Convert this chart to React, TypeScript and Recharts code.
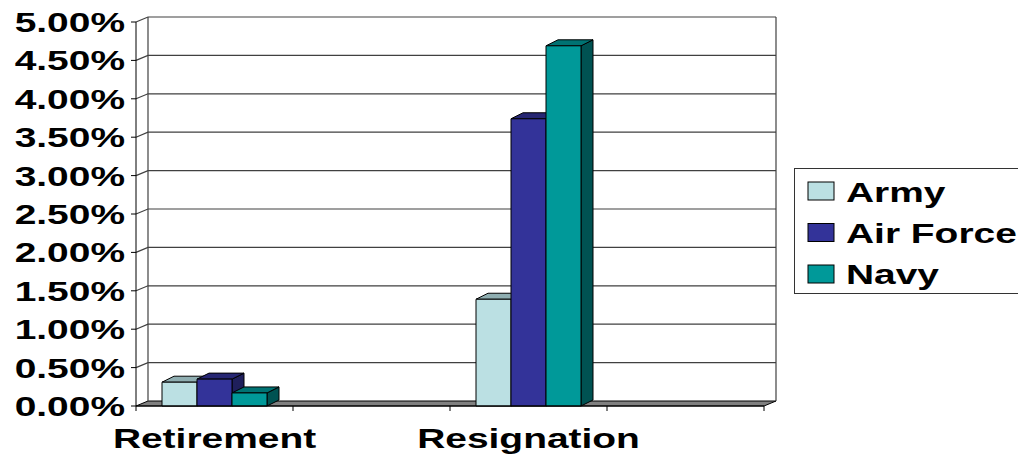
import { BarChart, Bar, XAxis, YAxis, CartesianGrid, Legend } from 'recharts';

const categories = ['Retirement', '', 'Resignation', ''];
const army = [0.0031, null, 0.0139, null];
const airForce = [0.0035, null, 0.0374, null];
const navy = [0.0017, null, 0.0469, null];
const yTicks = [0, 0.005, 0.01, 0.015, 0.02, 0.025, 0.03, 0.035, 0.04, 0.045, 0.05];

const series = [
  { key: 'army', name: 'Army', fill: '#BBE0E3', top: '#8FAEB1', side: '#7C979A' },
  { key: 'airForce', name: 'Air Force', fill: '#333399', top: '#262673', side: '#1F1F5C' },
  { key: 'navy', name: 'Navy', fill: '#009999', top: '#007373', side: '#005252' },
];

const data = categories.map((name, i) => ({
  name,
  army: army[i],
  airForce: airForce[i],
  navy: navy[i],
}));

const W = 1018;
const H = 455;
const PLOT_TOP = 22;
const PLOT_LEFT = 136;
const PLOT_RIGHT = 764;
const PLOT_BOTTOM = 406;
const BAND = (PLOT_RIGHT - PLOT_LEFT) / categories.length;

// fake 3d depth of the walls and of the boxes
const DX = 12;
const DY = 5;
const BOX_DY = 6;

// excel style text is stretched sideways
const FONT = "'Liberation Sans', Arial, sans-serif";
const FONT_SIZE = 28;
const STRETCH = 1.39;

const pct = (v: number) => `${(v * 100).toFixed(2)}%`;

function StretchText({ x, y, anchor, children }: any) {
  return (
    <text
      transform={`translate(${x},${y}) scale(${STRETCH},1)`}
      textAnchor={anchor}
      fontFamily={FONT}
      fontWeight="bold"
      fontSize={FONT_SIZE}
      fill="#000"
    >
      {children}
    </text>
  );
}

function YTick({ x, y, payload }: any) {
  return <StretchText x={x} y={y + 10} anchor="end">{pct(payload.value)}</StretchText>;
}

function XTick({ x, payload, index }: any) {
  const right = x + BAND / 2;
  const left = x - BAND / 2;
  return (
    <g>
      {index === 0 && <line x1={left} y1={PLOT_BOTTOM} x2={left} y2={PLOT_BOTTOM + 5} stroke="#000" />}
      <line x1={right} y1={PLOT_BOTTOM} x2={right} y2={PLOT_BOTTOM + 5} stroke="#000" />
      {payload.value && (
        <StretchText x={x} y={PLOT_BOTTOM + 42} anchor="middle">{payload.value}</StretchText>
      )}
    </g>
  );
}

// back wall gridline with its diagonal on the side wall, plus floor and wall edges
function GridLine(p: any) {
  const { x1, x2, y1, index } = p;
  const bx1 = x1 + DX;
  const bx2 = x2 + DX;
  const by = y1 - DY;
  const isFloor = Math.abs(y1 - PLOT_BOTTOM) < 0.5;
  const isTop = Math.abs(y1 - PLOT_TOP) < 0.5;
  return (
    <g key={`grid-${index}`}>
      {isFloor ? (
        <path
          d={`M${x1},${y1} L${x2},${y1} L${bx2},${by} L${bx1},${by} Z`}
          fill="#808080"
          stroke="#000"
          strokeWidth={1}
        />
      ) : (
        <path d={`M${x1},${y1} L${bx1},${by} L${bx2},${by}`} fill="none" stroke="#404040" strokeWidth={1.2} />
      )}
      {isTop && (
        <>
          <line x1={bx1} y1={by} x2={bx1} y2={PLOT_BOTTOM - DY} stroke="#404040" strokeWidth={1.2} />
          <line x1={bx2} y1={by} x2={bx2} y2={PLOT_BOTTOM - DY} stroke="#404040" strokeWidth={1.2} />
        </>
      )}
    </g>
  );
}

function Box3D({ x, y, width, height, face }: any) {
  if (!height || height <= 0) return null;
  const r = x + width;
  const b = y + height;
  return (
    <g stroke="#000" strokeWidth={1} strokeLinejoin="round">
      <path d={`M${r},${y} L${r + DX},${y - BOX_DY} L${r + DX},${b - BOX_DY} L${r},${b} Z`} fill={face.side} />
      <path d={`M${x},${y} L${r},${y} L${r + DX},${y - BOX_DY} L${x + DX},${y - BOX_DY} Z`} fill={face.top} />
      <rect x={x} y={y} width={width} height={height} fill={face.fill} />
    </g>
  );
}

// keep the legend in series order, not alphabetical
function LegendBox({ payload }: any) {
  const items = series
    .map((s) => (payload || []).find((e: any) => e.dataKey === s.key || e.value === s.name))
    .filter(Boolean);
  return (
    <svg width={240} height={128} style={{ display: 'block', overflow: 'visible' }}>
      <rect x={0.5} y={0.5} width={270} height={125} fill="#fff" stroke="#333" strokeWidth={1} />
      {items.map((entry: any, i: number) => (
        <g key={entry.value}>
          <rect x={14} y={14 + i * 41.5} width={26} height={18} fill={entry.color} stroke="#000" strokeWidth={1} />
          <StretchText x={52} y={34 + i * 41} anchor="start">{entry.value}</StretchText>
        </g>
      ))}
    </svg>
  );
}

export default function App() {
  return (
    <div style={{ position: 'absolute', left: 0, top: 0, width: W, height: H, overflow: 'hidden', background: '#fff' }}>
      <BarChart
        width={W}
        height={H}
        data={data}
        margin={{ top: PLOT_TOP, right: W - PLOT_RIGHT, bottom: 0, left: 0 }}
        barCategoryGap={26}
        barGap={0}
      >
        <CartesianGrid vertical={false} horizontal={GridLine} />
        <XAxis
          dataKey="name"
          height={H - PLOT_BOTTOM}
          interval={0}
          tickLine={false}
          axisLine={{ stroke: '#000' }}
          tick={XTick}
        />
        <YAxis
          width={PLOT_LEFT}
          domain={[0, 0.05]}
          ticks={yTicks}
          interval={0}
          tickSize={5}
          tickMargin={6}
          axisLine={{ stroke: '#000' }}
          tickLine={{ stroke: '#000' }}
          tick={YTick}
        />
        <Legend
          layout="horizontal"
          verticalAlign="middle"
          align="center"
          wrapperStyle={{ left: 794, top: 168, width: 240, height: 128 }}
          content={LegendBox}
        />
        {series.map((s) => (
          <Bar
            key={s.key}
            dataKey={s.key}
            name={s.name}
            fill={s.fill}
            isAnimationActive={false}
            shape={(p: any) => <Box3D {...p} face={s} />}
          />
        ))}
      </BarChart>
    </div>
  );
}
